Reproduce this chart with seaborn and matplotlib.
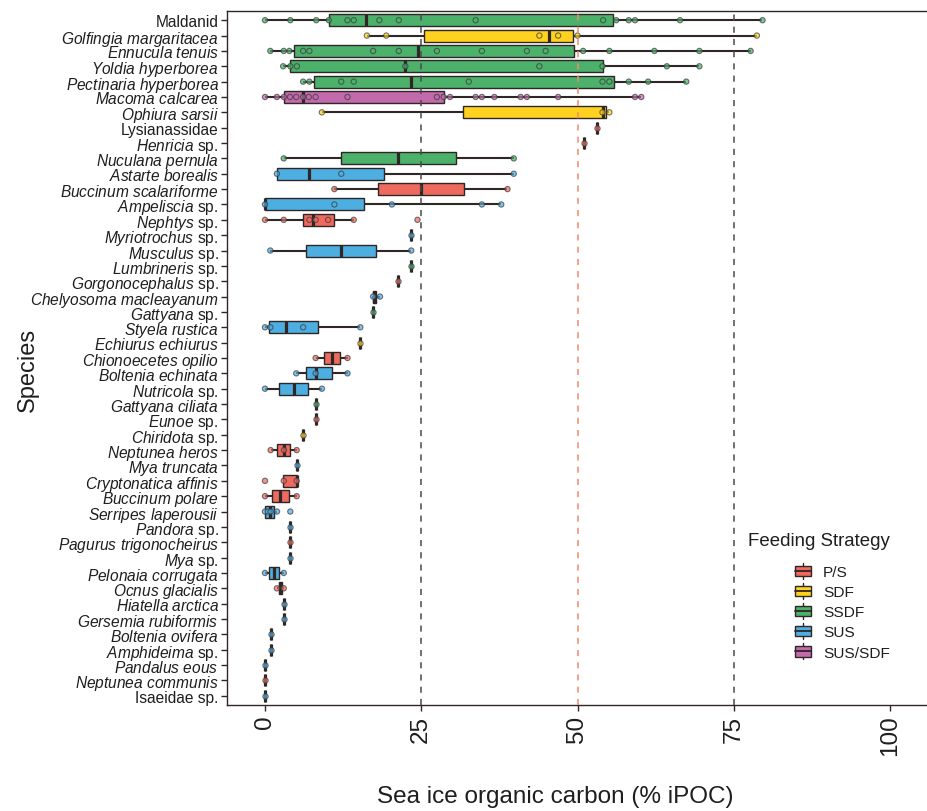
import numpy as np
import pandas as pd
import matplotlib
matplotlib.use("Agg")
import matplotlib.pyplot as plt
import seaborn as sns
from matplotlib.legend_handler import HandlerBase
from matplotlib.patches import Rectangle, Patch
from matplotlib.lines import Line2D

# ---------------------------------------------------------------- data
species = [
    "Maldanid", "Golfingia margaritacea", "Ennucula tenuis", "Yoldia hyperborea",
    "Pectinaria hyperborea", "Macoma calcarea", "Ophiura sarsii", "Lysianassidae",
    "Henricia sp.", "Nuculana pernula", "Astarte borealis", "Buccinum scalariforme",
    "Ampeliscia sp.", "Nephtys sp.", "Myriotrochus sp.", "Musculus sp.",
    "Lumbrineris sp.", "Gorgonocephalus sp.", "Chelyosoma macleayanum", "Gattyana sp.",
    "Styela rustica", "Echiurus echiurus", "Chionoecetes opilio", "Boltenia echinata",
    "Nutricola sp.", "Gattyana ciliata", "Eunoe sp.", "Chiridota sp.",
    "Neptunea heros", "Mya truncata", "Cryptonatica affinis", "Buccinum polare",
    "Serripes laperousii", "Pandora sp.", "Pagurus trigonocheirus", "Mya sp.",
    "Pelonaia corrugata", "Ocnus glacialis", "Hiatella arctica", "Gersemia rubiformis",
    "Boltenia ovifera", "Amphideima sp.", "Pandalus eous", "Neptunea communis",
    "Isaeidae sp.",
]

feeding = [
    "SSDF", "SDF", "SSDF", "SSDF",
    "SSDF", "SUS/SDF", "SDF", "P/S",
    "P/S", "SSDF", "SUS", "P/S",
    "SUS", "P/S", "SUS", "SUS",
    "SSDF", "P/S", "SUS", "SSDF",
    "SUS", "SDF", "P/S", "SUS",
    "SUS", "SSDF", "P/S", "SDF",
    "P/S", "SUS", "P/S", "P/S",
    "SUS", "SUS", "P/S", "SUS",
    "SUS", "P/S", "SUS", "SUS",
    "SUS", "SUS", "SUS", "P/S",
    "SUS",
]

# box summaries per species (% iPOC): whisker ends, quartiles and median
box_lo = [0.0, 16.3, 0.85, 2.9, 6.1, 0.0, 9.1, 53.1, 51.0, 3.0, 1.9, 11.1,
          0.0, 0.0, 23.4, 0.85, 23.4, 21.3, 17.1, 17.3, 0.0, 15.25, 8.1, 5.0,
          0.0, 8.1, 8.1, 6.1, 0.9, 5.07, 2.8, 0.0, 0.0, 4.05, 4.05, 4.05,
          0.0, 1.9, 3.0, 3.0, 0.9, 0.9, 0.0, 0.0, 0.0]
box_q1 = [10.2, 25.5, 4.6, 4.05, 7.9, 3.0, 31.6, 53.1, 51.0, 12.2, 1.9, 18.1,
          0.0, 6.1, 23.4, 6.6, 23.4, 21.3, 17.2, 17.3, 0.7, 15.25, 9.4, 6.6,
          2.2, 8.1, 8.1, 6.1, 1.97, 5.07, 2.8, 1.1, 0.0, 4.05, 4.05, 4.05,
          0.6, 2.2, 3.0, 3.0, 0.9, 0.9, 0.0, 0.0, 0.0]
box_med = [16.2, 45.4, 24.4, 22.45, 23.4, 6.1, 54.0, 53.1, 51.0, 21.3, 7.1, 25.0,
           0.0, 7.6, 23.4, 12.2, 23.4, 21.3, 17.5, 17.3, 3.4, 15.25, 10.7, 8.1,
           4.6, 8.1, 8.1, 6.1, 3.04, 5.07, 5.07, 2.45, 0.75, 4.05, 4.05, 4.05,
           1.4, 2.45, 3.0, 3.0, 0.9, 0.9, 0.0, 0.0, 0.0]
box_q3 = [55.6, 49.2, 49.5, 54.0, 55.9, 28.6, 54.55, 53.1, 51.0, 30.6, 19.1, 31.9,
          15.8, 11.1, 23.4, 17.8, 23.4, 21.3, 17.8, 17.3, 8.4, 15.25, 11.95, 10.7,
          6.8, 8.1, 8.1, 6.1, 4.05, 5.07, 5.07, 3.8, 1.5, 4.05, 4.05, 4.05,
          2.3, 2.7, 3.0, 3.0, 0.9, 0.9, 0.0, 0.0, 0.0]
box_hi = [79.6, 78.7, 77.7, 69.5, 67.4, 60.2, 55.1, 53.1, 51.0, 39.8, 39.8, 38.8,
          37.8, 14.2, 23.4, 23.4, 23.4, 21.3, 18.4, 17.3, 15.25, 15.25, 13.2, 13.2,
          9.1, 8.1, 8.1, 6.1, 5.07, 5.07, 5.07, 5.07, 1.92, 4.05, 4.05, 4.05,
          3.0, 3.0, 3.0, 3.0, 0.9, 0.9, 0.0, 0.0, 0.0]

# individual samples per species (% iPOC)
samples = [
    [0.0, 4.05, 8.2, 10.2, 13.2, 14.2, 18.3, 21.4, 33.7, 54.1, 56.2, 58.2, 59.2, 66.4, 79.6],
    [16.3, 19.4, 43.9, 46.9, 50.0, 78.7],
    [0.85, 3.0, 3.9, 6.1, 7.1, 17.3, 21.4, 27.5, 34.7, 41.9, 44.9, 50.9, 55.1, 62.3, 69.5, 77.7],
    [2.9, 4.05, 5.1, 22.45, 43.9, 54.0, 64.3, 69.5],
    [6.1, 7.1, 12.2, 14.2, 32.6, 54.0, 55.1, 58.2, 61.3, 67.4],
    [0.0, 1.9, 3.0, 4.0, 5.0, 6.1, 7.0, 8.1, 13.2, 27.5, 28.6, 29.6, 33.7, 34.7,
     36.7, 40.9, 41.9, 46.9, 59.2, 60.2],
    [9.1, 54.0, 55.1],
    [53.1],
    [51.0],
    [3.0, 39.8],
    [1.9, 12.2, 39.8],
    [11.1, 38.8],
    [0.0, 11.1, 20.3, 34.7, 37.8],
    [0.0, 3.0, 7.1, 8.1, 10.1, 14.2, 24.4],
    [23.4],
    [0.85, 23.4],
    [23.4],
    [21.3],
    [17.3, 18.4],
    [17.3],
    [0.0, 0.85, 6.1, 15.25],
    [15.25],
    [8.1, 13.2],
    [5.0, 8.1, 13.2],
    [0.0, 9.1],
    [8.1],
    [8.1],
    [6.1],
    [0.9, 3.04, 5.07],
    [5.07],
    [0.0, 3.0, 5.07],
    [0.0, 5.07],
    [0.0, 0.45, 0.9, 1.92, 4.05],
    [4.05],
    [4.05],
    [4.05],
    [0.0, 3.0],
    [1.9, 3.0],
    [3.0],
    [3.0],
    [0.9],
    [0.9],
    [0.0],
    [0.0],
    [0.0],
]

strategies = ["P/S", "SDF", "SSDF", "SUS", "SUS/SDF"]
strategy_colors = ["#EE6A5F", "#FFD21F", "#4BB16B", "#4DAEE2", "#C26AAB"]
x_ticks = [0, 25, 50, 75, 100]
ref_lines = [25, 50, 75]
ref_colors = ["#4a4a4a", "#EF8D6B", "#4a4a4a"]

EDGE = "#2f2626"

# ---------------------------------------------------------------- tables
box_df = pd.DataFrame({
    "species": np.repeat(species, 5),
    "feeding": np.repeat(feeding, 5),
    "value": np.column_stack([box_lo, box_q1, box_med, box_q3, box_hi]).ravel(),
})
pts_df = pd.DataFrame({
    "species": [s for s, v in zip(species, samples) for _ in v],
    "feeding": [f for f, v in zip(feeding, samples) for _ in v],
    "value": [x for v in samples for x in v],
})

# ---------------------------------------------------------------- style
sns.set_theme(style="white")
plt.rcParams["font.family"] = ["Liberation Sans", "DejaVu Sans"]
plt.rcParams["mathtext.fontset"] = "custom"
plt.rcParams["mathtext.rm"] = "Liberation Sans"
plt.rcParams["mathtext.it"] = "Liberation Sans:italic"
plt.rcParams["mathtext.bf"] = "Liberation Sans:bold"

upright = {"Maldanid", "Lysianassidae", "Isaeidae sp."}


def tick_label(name):
    if name in upright:
        return name
    if name.endswith(" sp."):
        return r"$\mathit{" + name[:-4].replace(" ", r"\ ") + r"}$ sp."
    return r"$\mathit{" + name.replace(" ", r"\ ") + r"}$"


palette = dict(zip(strategies, strategy_colors))

fig = plt.figure(figsize=(9.28, 8.12), dpi=100)
ax = fig.add_axes([227 / 928, 1 - 706 / 812, (928 - 227) / 928, (706 - 12) / 812])

sns.boxplot(
    data=box_df, x="value", y="species", hue="feeding",
    order=species, hue_order=strategies, palette=palette,
    orient="h", dodge=False, width=0.78, saturation=1,
    whis=(0, 100), showfliers=False, showcaps=False,
    linecolor=EDGE, linewidth=1.0,
    medianprops=dict(color=EDGE, linewidth=2.3, solid_capstyle="butt"),
    whiskerprops=dict(color=EDGE, linewidth=1.5),
    legend=False, ax=ax, zorder=2,
)

sns.stripplot(
    data=pts_df, x="value", y="species", hue="feeding",
    order=species, hue_order=strategies, palette=palette,
    orient="h", dodge=False, jitter=False, size=3.8,
    linewidth=0.8, edgecolor="#3a3a3a", alpha=0.7,
    legend=False, ax=ax, zorder=3,
)

for xv, c in zip(ref_lines, ref_colors):
    ax.axvline(xv, color=c, lw=1.1, ls=(0, (4, 4)), zorder=5)

ax.set_xlim(-6.08, 106.08)
ax.set_ylim(len(species) - 1 + 0.6, -0.6)
ax.set_xticks(x_ticks)
ax.set_xticklabels([str(t) for t in x_ticks])
ax.set_yticks(range(len(species)))
ax.set_yticklabels([tick_label(s) for s in species])

ax.tick_params(axis="y", length=4, width=1, color=EDGE, pad=2,
               labelsize=11.2, labelcolor="#1e1e1e", left=True)
ax.tick_params(axis="x", length=4, width=1, color=EDGE, pad=3,
               labelsize=17.5, labelcolor="#1e1e1e", labelrotation=90, bottom=True)

for side in ["left", "bottom", "top"]:
    ax.spines[side].set_visible(True)
    ax.spines[side].set_color(EDGE)
    ax.spines[side].set_linewidth(1.0)
ax.spines["right"].set_visible(False)

ax.set_xlabel("Sea ice organic carbon (% iPOC)", fontsize=17.5, color="#1e1e1e")
ax.set_ylabel("Species", fontsize=17, color="#1e1e1e")
ax.xaxis.set_label_coords((555 - 227) / 701, (706 - 797) / 694)
ax.xaxis.label.set_va("center")
ax.yaxis.set_label_coords((28 - 227) / 701, (706 - 370) / 694)
ax.yaxis.label.set_va("center")


# legend keys drawn as small vertical boxplots
class BoxKey(HandlerBase):
    def create_artists(self, legend, orig_handle, xdescent, ydescent,
                       width, height, fontsize, trans):
        x0, y0 = -xdescent, -ydescent
        bh = height * 0.66
        by = y0 + (height - bh) / 2
        xc = x0 + width / 2
        w_lo = Line2D([xc, xc], [y0, by], color=EDGE, lw=1.0, transform=trans)
        w_hi = Line2D([xc, xc], [by + bh, y0 + height], color=EDGE, lw=1.0, transform=trans)
        rect = Rectangle((x0, by), width, bh, facecolor=orig_handle.get_facecolor(),
                         edgecolor=EDGE, lw=1.0, transform=trans)
        mid = Line2D([x0, x0 + width], [y0 + height / 2] * 2, color=EDGE, lw=1.3,
                     transform=trans)
        return [w_lo, w_hi, rect, mid]


handles = [Patch(facecolor=c, edgecolor=EDGE) for c in strategy_colors]
fig.text(748 / 928, 1 - 541 / 812, "Feeding Strategy", fontsize=13.4,
         color="#1e1e1e", ha="left", va="center")
leg = ax.legend(
    handles, strategies, handler_map={Patch: BoxKey()},
    loc="upper left", bbox_to_anchor=(795 / 928, 1 - 564 / 812),
    bbox_transform=fig.transFigure, frameon=False, fontsize=11.1,
    handlelength=1.05, handleheight=1.2, handletextpad=0.75,
    labelspacing=0.26, borderpad=0, borderaxespad=0,
)
for t in leg.get_texts():
    t.set_color("#1e1e1e")

fig.savefig("out.png", dpi=100)
